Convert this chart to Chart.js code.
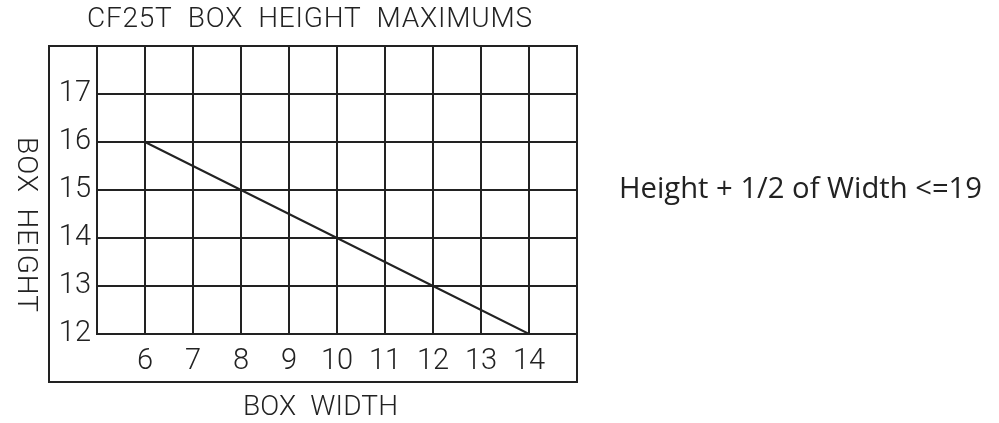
<!DOCTYPE html>
<html>
<head>
    <script src="https://cdn.jsdelivr.net/npm/chart.js@4.4.0/dist/chart.umd.min.js"></script>
    <style>
        body {
            margin: 0;
            padding: 0;
            background-color: white;
        }
        .wrap {
            width: 999px;
            height: 423px;
            position: relative;
        }
    </style>
</head>
<body>
    <div class="wrap">
        <canvas id="boxChart"></canvas>
    </div>

    <script>
        // Garis maksimum: lebar kotak vs tinggi kotak
        const boxWidths = [6, 8, 10, 12, 14];
        const boxHeights = [16, 15, 14, 13, 12];

        // Label paksi
        const xTickLabels = [6, 7, 8, 9, 10, 11, 12, 13, 14];
        const yTickLabels = [12, 13, 14, 15, 16, 17];

        const titleText = 'CF25T  BOX  HEIGHT  MAXIMUMS';
        const xTitleText = 'BOX  WIDTH';
        const yTitleText = 'BOX  HEIGHT';
        const noteText = 'Height + 1/2 of Width <=19';

        const ink = '#222';
        const cadFamily = 'Roboto, "Liberation Sans", sans-serif';
        const cadFont = '300 28px ' + cadFamily;

        // tulis teks di tengah, regang huruf supaya lebar = targetW
        function drawFitted(ctx, text, x, y, targetW) {
            ctx.save();
            ctx.letterSpacing = '0px';
            const natural = ctx.measureText(text).width;
            const spacing = (targetW - natural) / (text.length - 1);
            ctx.letterSpacing = spacing + 'px';
            ctx.textAlign = 'left';
            ctx.fillText(text, x - targetW / 2, y);
            ctx.restore();
        }

        // Kotak luar dan teks tambahan
        const framePlugin = {
            id: 'frame',
            afterDraw(chart) {
                const ctx = chart.ctx;
                const xs = chart.scales.x;
                const ys = chart.scales.y;
                const left = xs.getPixelForValue(4);
                const right = xs.getPixelForValue(15);
                const top = ys.getPixelForValue(18);
                const bottom = ys.getPixelForValue(11);

                ctx.save();
                ctx.strokeStyle = ink;
                ctx.lineWidth = 2;
                ctx.strokeRect(left, top, right - left, bottom - top);

                ctx.fillStyle = ink;
                ctx.font = cadFont;
                ctx.textBaseline = 'middle';
                drawFitted(ctx, titleText, 309.5, 20, 445);
                drawFitted(ctx, xTitleText, 320.5, 408, 155);

                ctx.save();
                ctx.translate(25, 224.5);
                ctx.rotate(Math.PI / 2);
                drawFitted(ctx, yTitleText, 0, 0, 175);
                ctx.restore();

                ctx.font = '30px "Open Sans", "Noto Sans", sans-serif';
                ctx.textAlign = 'left';
                ctx.fillText(noteText, 619, 189, 363);
                ctx.restore();
            }
        };

        new Chart(document.getElementById('boxChart'), {
            type: 'scatter',
            data: {
                datasets: [{
                    data: boxWidths.map((w, i) => ({ x: w, y: boxHeights[i] })),
                    showLine: true,
                    borderColor: ink,
                    borderWidth: 2,
                    pointRadius: 0,
                    fill: false
                }]
            },
            options: {
                responsive: true,
                maintainAspectRatio: false,
                animation: false,
                layout: {
                    padding: { left: 49, right: 422, top: 46, bottom: 41 }
                },
                plugins: {
                    legend: { display: false },
                    tooltip: { enabled: false }
                },
                scales: {
                    x: {
                        type: 'linear',
                        min: 5,
                        max: 15,
                        afterFit(scale) { scale.height = 48; },
                        ticks: {
                            stepSize: 1,
                            color: ink,
                            padding: 10,
                            maxRotation: 0,
                            font: { family: cadFamily, size: 29, weight: 300 },
                            callback: v => xTickLabels.includes(v) ? String(v) : ''
                        },
                        grid: { color: ink, lineWidth: 2, drawTicks: false },
                        border: { color: ink, width: 2 }
                    },
                    y: {
                        type: 'linear',
                        min: 12,
                        max: 18,
                        afterFit(scale) { scale.width = 48; },
                        ticks: {
                            stepSize: 1,
                            color: ink,
                            padding: 6,
                            font: { family: cadFamily, size: 29, weight: 300 },
                            callback: v => yTickLabels.includes(v) ? String(v) : ''
                        },
                        grid: { color: ink, lineWidth: 2, drawTicks: false },
                        border: { color: ink, width: 2 }
                    }
                }
            },
            plugins: [framePlugin]
        });
    </script>
</body>
</html>
